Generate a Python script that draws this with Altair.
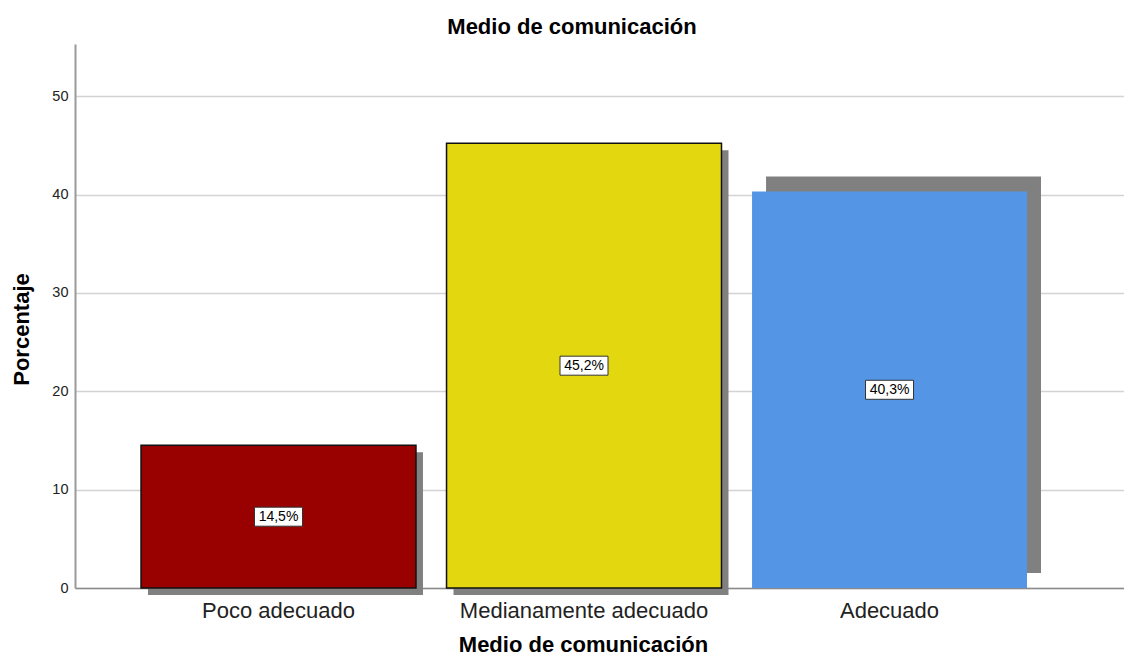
import altair as alt
import pandas as pd

categories = ["Poco adecuado", "Medianamente adecuado", "Adecuado"]
percentages = [14.5, 45.2, 40.3]
value_labels = ["14,5%", "45,2%", "40,3%"]
colors = ["#990000", "#E3D80F", "#5495E5"]
y_ticks = [0, 10, 20, 30, 40, 50]

df = pd.DataFrame({"cat": categories, "pct": percentages, "lbl": value_labels})

FONT = "Liberation Sans"

x_scale = alt.Scale(paddingInner=0.1, paddingOuter=0.2668, align=0.405)
y_scale = alt.Scale(domain=[0, 55.3], nice=False)

x_axis = alt.Axis(
    title="Medio de comunicación", labelAngle=0, ticks=False, labelPadding=12,
    labelFontSize=22, labelFont=FONT, labelColor="#222222", labelLimit=0,
    domainColor="#8a8a8a", domainWidth=1.5, grid=False,
    titleFont=FONT, titleFontSize=22, titleFontWeight="bold", titleColor="black",
    titleX=508, titleY=63, titleBaseline="alphabetic", titleAlign="center",
)
y_axis = alt.Axis(
    title="Porcentaje", values=y_ticks, ticks=False, labelPadding=7,
    labelFontSize=14.5, labelFont=FONT, labelColor="#222222",
    domainColor="#9a9a9a", domainWidth=2, gridColor="#D3D3D3", gridWidth=1.5,
    titleFont=FONT, titleFontSize=22, titleFontWeight="bold", titleColor="black",
    titleX=-47, titleY=285, titleAngle=270, titleBaseline="alphabetic", titleAlign="center",
)

X = alt.X("cat:N", sort=categories, scale=x_scale, axis=x_axis)
base = alt.Chart(df).encode(x=X, y=alt.Y("pct:Q", scale=y_scale, axis=y_axis))

shadow1 = base.transform_filter(alt.datum.cat != "Adecuado").mark_bar(
    color="#808080", xOffset=7, x2Offset=7, yOffset=7, y2Offset=7
)
shadow2 = base.transform_filter(alt.datum.cat == "Adecuado").mark_bar(
    color="#808080", xOffset=14, x2Offset=14, yOffset=-15, y2Offset=-15
)
bars = base.mark_bar(stroke="#111111", strokeWidth=1.5).encode(
    color=alt.Color("cat:N", scale=alt.Scale(domain=categories, range=colors), legend=None),
    strokeOpacity=alt.condition(alt.datum.cat == "Adecuado", alt.value(0), alt.value(1)),
)

mid_base = alt.Chart(df).transform_calculate(mid="datum.pct / 2").encode(
    x=X, y=alt.Y("mid:Q", scale=y_scale, axis=y_axis)
)
boxes = mid_base.mark_point(
    shape="M-1,-0.396L1,-0.396L1,0.396L-1,0.396Z", size=2304,
    fill="white", stroke="#333333", strokeWidth=1, opacity=1,
)
texts = mid_base.mark_text(font=FONT, fontSize=14, color="black", baseline="middle").encode(
    text="lbl:N"
)

chart = alt.layer(shadow1, shadow2, bars, boxes, texts).properties(
    width=1049, height=544,
    padding={"left": 67, "top": 36, "right": 0, "bottom": 67},
    autosize=alt.AutoSizeParams(type="none"),
    background="white",
    title=alt.Title(
        "Medio de comunicación", font=FONT, fontSize=22, fontWeight="bold",
        anchor="middle", frame="group", baseline="alphabetic", offset=11,
        dx=-27.5, dy=23, color="black",
    ),
).configure_view(stroke=None)

chart.save("out.html", embed_options={"renderer": "svg", "actions": False})
